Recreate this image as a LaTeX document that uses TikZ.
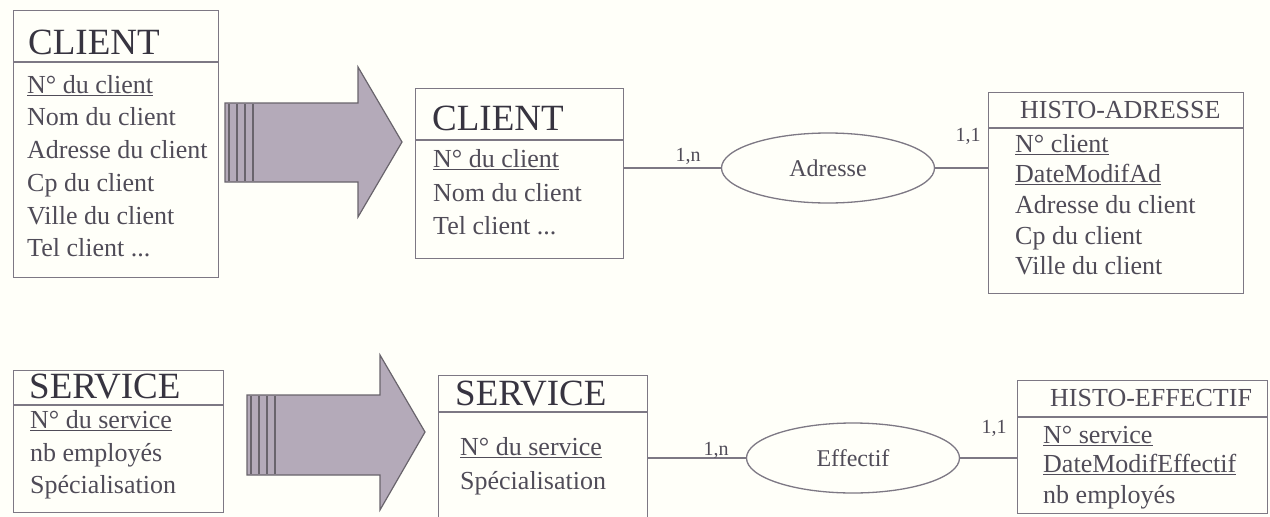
\documentclass[tikz,border=0pt]{standalone}
\usepackage{fontspec}
\setmainfont{Liberation Serif}
\usetikzlibrary{shapes.geometric}
\definecolor{ink}{RGB}{80,76,88}
\definecolor{titleink}{RGB}{55,52,64}
\definecolor{edge}{RGB}{125,120,132}
\definecolor{arrowfill}{RGB}{180,170,185}
\definecolor{arrowdark}{RGB}{105,100,108}
\definecolor{paper}{RGB}{255,255,249}
\begin{document}
\begin{tikzpicture}[x=1pt,y=-1pt,
  entbox/.style={draw=edge, line width=1.3pt, anchor=north west, inner sep=0pt},
  sepline/.style={draw=edge, line width=1.3pt},
  bigtitle/.style={anchor=west, inner sep=0pt, text=titleink, font=\fontsize{37}{40}\selectfont},
  smalltitle/.style={anchor=west, inner sep=0pt, text=ink, font=\fontsize{26}{28}\selectfont},
  attr/.style={anchor=west, inner sep=0pt, text=ink, text height=18pt, text depth=5pt, font=\fontsize{26}{28}\selectfont},
  assoc/.style={ellipse, draw=edge, line width=1.3pt, inner sep=0pt, text=ink, font=\fontsize{24}{26}\selectfont},
  link/.style={draw=edge, line width=1.3pt},
  card/.style={inner sep=0pt, text=ink, font=\fontsize{20}{22}\selectfont},
  bigarrow/.style={fill=arrowfill, draw=arrowdark, line width=1.2pt, line join=miter},
  stripe/.style={draw=arrowdark, line width=1.2pt}
]
\useasboundingbox (0,0) rectangle (1270,517);
\clip (0,0) rectangle (1270,517);
\fill[paper] (0,0) rectangle (1270,517);

% ---------- top row ----------
\node[entbox, minimum width=205, minimum height=267] (client1) at (13,10) {};
\draw[sepline] (13,62) -- (218,62);
\node[bigtitle] (client1t) at (28,42) {CLIENT};
\node[attr] (c1a) at (27,87) {\underline{N° du client}};
\node[attr] (c1b) at (27,119) {Nom du client};
\node[attr] (c1c) at (27,152) {Adresse du client};
\node[attr] (c1d) at (27,185) {Cp du client};
\node[attr] (c1e) at (27,218) {Ville du client};
\node[attr] (c1f) at (27,250) {Tel client ...};

\draw[bigarrow] (225,103) -- (358,103) -- (358,67) -- (402,142) -- (358,217) -- (358,182) -- (225,182) -- cycle;
\foreach \sx in {229,237,245,253} \draw[stripe] (\sx,104) -- (\sx,181);

\node[entbox, minimum width=208, minimum height=170] (client2) at (415,88) {};
\draw[sepline] (415,140) -- (623,140);
\node[bigtitle] (client2t) at (432,118) {CLIENT};
\node[attr] (c2a) at (433,161) {\underline{N° du client}};
\node[attr] (c2b) at (433,195) {Nom du client};
\node[attr] (c2c) at (433,228) {Tel client ...};

\node[assoc, minimum width=213, minimum height=70] (ass1) at (828,168) {Adresse};

\node[entbox, minimum width=255, minimum height=201] (histo1) at (988,92) {};
\draw[sepline] (988,128) -- (1243,128);
\node[smalltitle] (histo1t) at (1020,110) {HISTO-ADRESSE};
\node[attr] (h1a) at (1015,146) {\underline{N° client}};
\node[attr] (h1b) at (1015,176) {\underline{DateModifAd}};
\node[attr] (h1c) at (1015,207) {Adresse du client};
\node[attr] (h1d) at (1015,238) {Cp du client};
\node[attr] (h1e) at (1015,268) {Ville du client};

\draw[link] (client2.east |- ass1.west) -- (ass1.west);
\draw[link] (ass1.east) -- (ass1.east -| histo1.west);
\node[card] (card1) at (688,156) {1,n};
\node[card] (card2) at (968,136) {1,1};

% ---------- bottom row ----------
\node[entbox, minimum width=210, minimum height=142] (service1) at (13,370) {};
\draw[sepline] (13,405) -- (223,405);
\node[bigtitle] (service1t) at (29,387) {SERVICE};
\node[attr] (s1a) at (30,422) {\underline{N° du service}};
\node[attr] (s1b) at (30,455) {nb employés};
\node[attr] (s1c) at (30,487) {Spécialisation};

\draw[bigarrow] (247,395) -- (380,395) -- (380,355) -- (425,432) -- (380,510) -- (380,475) -- (247,475) -- cycle;
\foreach \sx in {251,259,267,275} \draw[stripe] (\sx,396) -- (\sx,474);

\node[entbox, minimum width=209, minimum height=160] (service2) at (438,375) {};
\draw[sepline] (438,412) -- (647,412);
\node[bigtitle] (service2t) at (455,394) {SERVICE};
\node[attr] (s2a) at (460,449) {\underline{N° du service}};
\node[attr] (s2b) at (460,483) {Spécialisation};

\node[assoc, minimum width=213, minimum height=70] (ass2) at (853,458) {Effectif};

\node[entbox, minimum width=250, minimum height=133] (histo2) at (1017,380) {};
\draw[sepline] (1017,417) -- (1267,417);
\node[smalltitle] (histo2t) at (1050,398) {HISTO-EFFECTIF};
\node[attr] (h2a) at (1043,437) {\underline{N° service}};
\node[attr] (h2b) at (1043,466) {\underline{DateModifEffectif}};
\node[attr] (h2c) at (1043,497) {nb employés};

\draw[link] (service2.east |- ass2.west) -- (ass2.west);
\draw[link] (ass2.east) -- (ass2.east -| histo2.west);
\node[card] (card3) at (716,450) {1,n};
\node[card] (card4) at (994,428) {1,1};
\end{tikzpicture}
\end{document}
